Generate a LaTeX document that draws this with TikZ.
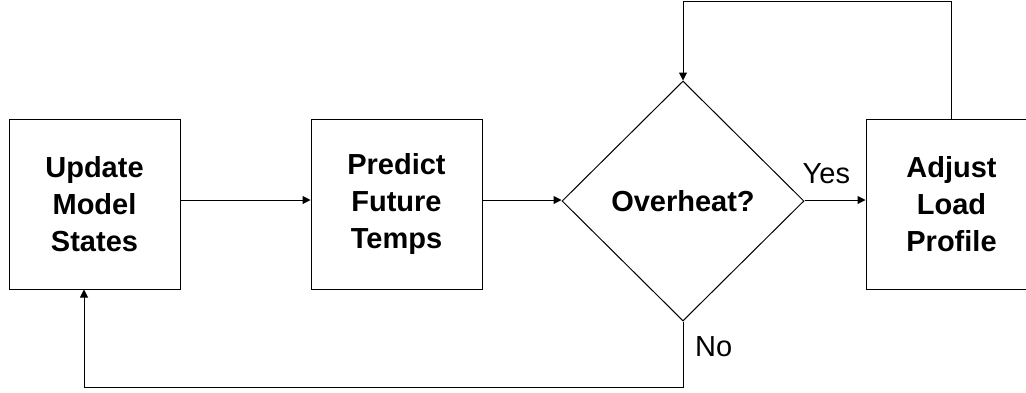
\documentclass[tikz,border=0pt]{standalone}
\usepackage{fontspec}
\setmainfont{Liberation Sans}
\usepackage{tikz}
\usetikzlibrary{shapes.geometric,arrows.meta,positioning}

\begin{document}
\begin{tikzpicture}[x=1pt, y=-1pt,
  stage/.style={rectangle, draw=black, line width=1pt, minimum width=171pt,
              minimum height=170pt, align=center, inner sep=0pt,
              font=\fontsize{29}{36.7}\selectfont\bfseries},
  check/.style={diamond, draw=black, line width=1pt, minimum width=242pt,
              minimum height=240pt, inner sep=0pt,
              font=\fontsize{29}{36.7}\selectfont\bfseries},
  lbl/.style={inner sep=0pt, font=\fontsize{29}{36.7}\selectfont},
  flow/.style={line width=1pt, -{Triangle[length=8pt,width=8pt]}}]
\useasboundingbox (0,0) rectangle (1026,392);
\node[stage] (upd) at (94.5,204) {Update\\ Model\\ States};
\node[stage, right=130pt of upd] (pred) {Predict\\ Future\\ Temps};
\node[check, right=79pt of pred, yshift=3pt] (heat) {Overheat?};
\node[stage, right=61pt of heat, yshift=-3pt] (adj) {Adjust\\ Load\\ Profile};
\node[lbl, anchor=base west] (yes) at ([xshift=-2pt,yshift=18pt]heat.east) {Yes};
\node[lbl, anchor=base west] (no) at ([xshift=12pt,yshift=-35pt]heat.south) {No};
\draw[flow] ([yshift=4pt]upd.east) -- ([yshift=4pt]pred.west);
\draw[flow] ([yshift=4pt]pred.east) -- ([yshift=1pt]heat.west);
\draw[flow] ([yshift=1pt]heat.east) -- ([yshift=4pt]adj.west);
\draw[flow] (adj.north) -- ++(0,-117) -| (heat.north);
\draw[flow] (heat.south) -- ++(0,66) -| ([xshift=-10.5pt]upd.south);
\end{tikzpicture}
\end{document}
